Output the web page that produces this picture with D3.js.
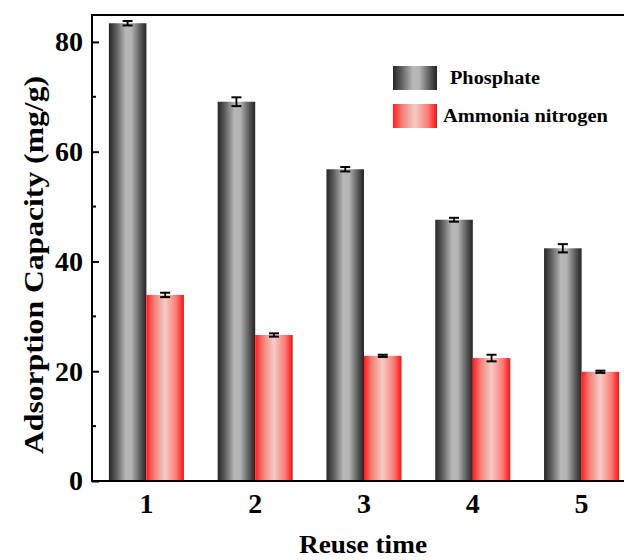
<!DOCTYPE html>
<html>
<head>
<meta charset="utf-8">
<script src="https://cdn.jsdelivr.net/npm/d3@7"></script>
<style>
  body { margin: 0; background: #fff; }
  text { font-family: "Liberation Serif", "Times New Roman", serif; font-weight: bold; }
</style>
</head>
<body>
<script>
// chart data
var reuse = ["1", "2", "3", "4", "5"];
var phosphate = [83.4, 69.1, 56.8, 47.6, 42.4];
var phosphateErr = [0.4, 0.8, 0.4, 0.35, 0.75];
var ammonia = [33.9, 26.6, 22.8, 22.4, 19.9];
var ammoniaErr = [0.4, 0.3, 0.2, 0.6, 0.2];
var seriesNames = ["Phosphate", "Ammonia nitrogen"];
var yTicks = [0, 20, 40, 60, 80];
var yMinor = [10, 30, 50, 70];

var w = 624, h = 560;
// plot box (right edge lies past the picture, as in the figure)
var plotL = 92, plotR = 636, plotT = 15, plotB = 481;

var svg = d3.select("body").append("svg")
  .attr("width", w)
  .attr("height", h);

// horizontal gradients for the bars
var defs = svg.append("defs");
function grad(id, stops) {
  var g = defs.append("linearGradient").attr("id", id)
    .attr("x1", "0%").attr("x2", "100%").attr("y1", "0%").attr("y2", "0%");
  stops.forEach(function(s) {
    g.append("stop").attr("offset", s[0]).attr("stop-color", s[1]);
  });
}
grad("gray", [[0, "#262626"], [0.18, "#5a5a5a"], [0.45, "#b8b8b8"], [0.6, "#b4b4b4"], [0.85, "#555"], [1, "#242424"]]);
grad("red", [[0, "#ff1c1c"], [0.2, "#f77a74"], [0.5, "#f4cdc6"], [0.8, "#f77a74"], [1, "#ff1010"]]);

var x = d3.scaleBand().domain(reuse).range([plotL, plotR])
  .paddingInner(0.31).paddingOuter(0.155);
var sub = d3.scaleBand().domain(seriesNames).range([0, x.bandwidth()]);
var y = d3.scaleLinear().domain([0, 84.9]).range([plotB, plotT]);

var series = [
  { name: seriesNames[0], vals: phosphate, err: phosphateErr, fill: "url(#gray)" },
  { name: seriesNames[1], vals: ammonia, err: ammoniaErr, fill: "url(#red)" }
];

series.forEach(function(s) {
  var g = svg.append("g");
  g.selectAll("rect").data(s.vals).enter().append("rect")
    .attr("x", function(d, i) { return x(reuse[i]) + sub(s.name); })
    .attr("y", function(d) { return y(d); })
    .attr("width", sub.bandwidth())
    .attr("height", function(d) { return y(0) - y(d); })
    .attr("fill", s.fill);

  // error bars
  s.vals.forEach(function(d, i) {
    var cx = x(reuse[i]) + sub(s.name) + sub.bandwidth() / 2;
    var y1 = y(d + s.err[i]), y2 = y(d - s.err[i]);
    g.append("line").attr("x1", cx).attr("x2", cx).attr("y1", y1).attr("y2", y2)
      .attr("stroke", "#000").attr("stroke-width", 1.8);
    [y1, y2].forEach(function(yy) {
      g.append("line").attr("x1", cx - 5).attr("x2", cx + 5).attr("y1", yy).attr("y2", yy)
        .attr("stroke", "#000").attr("stroke-width", 2);
    });
  });
});

// frame
svg.append("rect")
  .attr("x", plotL).attr("y", plotT)
  .attr("width", plotR - plotL).attr("height", plotB - plotT)
  .attr("fill", "none").attr("stroke", "#000").attr("stroke-width", 2);

// y axis: inward ticks
var yAxis = d3.axisLeft(y).tickValues(yTicks).tickSize(-7).tickPadding(9);
var ya = svg.append("g").attr("transform", "translate(" + plotL + ",0)").call(yAxis);
ya.select(".domain").remove();
ya.selectAll("line").attr("stroke-width", 2);
ya.selectAll("text").style("font-size", "28px").attr("fill", "#000");
svg.append("g").selectAll("line").data(yMinor).enter().append("line")
  .attr("x1", plotL).attr("x2", plotL + 4)
  .attr("y1", function(d) { return y(d); }).attr("y2", function(d) { return y(d); })
  .attr("stroke", "#000").attr("stroke-width", 2);

// x axis labels
var xAxis = d3.axisBottom(x).tickSize(0).tickPadding(12);
var xa = svg.append("g").attr("transform", "translate(0," + plotB + ")").call(xAxis);
xa.select(".domain").remove();
xa.selectAll("text").style("font-size", "28px").attr("fill", "#000");

// axis titles
svg.append("text")
  .attr("x", 363).attr("y", 553)
  .attr("text-anchor", "middle")
  .style("font-size", "26px")
  .attr("textLength", 128).attr("lengthAdjust", "spacingAndGlyphs")
  .text("Reuse time");
svg.append("text")
  .attr("transform", "translate(43,265) rotate(-90)")
  .attr("text-anchor", "middle")
  .style("font-size", "28px")
  .attr("textLength", 378).attr("lengthAdjust", "spacingAndGlyphs")
  .text("Adsorption Capacity (mg/g)");

// legend
var legend = svg.append("g").attr("transform", "translate(393,66)");
var legendLen = [90, 165];
series.forEach(function(s, i) {
  legend.append("rect")
    .attr("x", 0).attr("y", i * 38)
    .attr("width", 44).attr("height", 24)
    .attr("fill", s.fill);
  legend.append("text")
    .attr("x", i === 0 ? 57 : 50).attr("y", i * 38 + 18)
    .style("font-size", "18px")
    .attr("textLength", legendLen[i]).attr("lengthAdjust", "spacingAndGlyphs")
    .text(s.name);
});
</script>
</body>
</html>
